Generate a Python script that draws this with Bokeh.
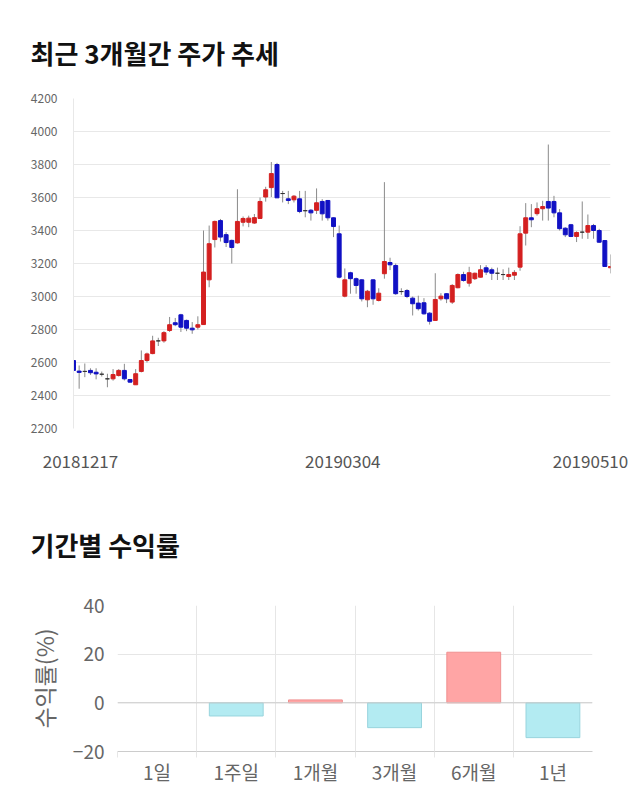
from bokeh.plotting import figure
from bokeh.models import ColumnDataSource, FixedTicker, Title, Span
from bokeh.embed import file_html
from bokeh.resources import INLINE

FONT = "Noto Sans CJK KR"

# ---- price data (96 trading days, 2018-12-17 .. 2019-05-10) ----
opens = [2612, 2548, 2546, 2552, 2541, 2529, 2501, 2501, 2521, 2552, 2497, 2465,
         2546, 2612, 2654, 2731, 2731, 2794, 2841, 2889, 2855, 2808, 2814,
         2830, 3101, 3345, 3460, 3375, 3340, 3325, 3450, 3450, 3445, 3473, 3603,
         3660, 3800, 3624, 3592, 3586, 3592, 3520, 3523, 3522, 3576, 3582, 3477,
         3380, 3002, 3144, 3108, 3101, 2980, 3101, 2976, 3138, 3206, 3188, 3030,
         3036, 2990, 2960, 2962, 2899, 2855, 2986, 3017, 2966, 3053, 3133, 3081,
         3108, 3117, 3174, 3162, 3141, 3133, 3121, 3129, 3178, 3384, 3477, 3502,
         3532, 3576, 3576, 3507, 3414, 3435, 3364, 3390, 3390, 3430, 3400, 3339,
         3174]
highs = [2620, 2582, 2594, 2565, 2565, 2545, 2532, 2560, 2560, 2592, 2500, 2560,
         2673, 2660, 2762, 2750, 2790, 2876, 2870, 2895, 2860, 2845, 2880,
         3400, 3430, 3460, 3470, 3390, 3345, 3650, 3485, 3490, 3500, 3600, 3665,
         3815, 3810, 3640, 3640, 3615, 3640, 3640, 3530, 3655, 3590, 3585, 3480,
         3430, 3170, 3150, 3115, 3105, 3040, 3105, 3050, 3693, 3235, 3200, 3050,
         3045, 3000, 3005, 2990, 2905, 3141, 3020, 3020, 3075, 3140, 3150, 3180,
         3145, 3190, 3190, 3175, 3175, 3165, 3175, 3160, 3426, 3566, 3560, 3570,
         3580, 3921, 3610, 3530, 3420, 3440, 3395, 3576, 3497, 3440, 3410, 3340,
         3255]
lows = [2552, 2441, 2511, 2525, 2498, 2515, 2450, 2490, 2515, 2491, 2478, 2465,
        2540, 2600, 2650, 2700, 2720, 2785, 2820, 2785, 2790, 2774, 2800,
        2828, 3056, 3297, 3333, 3300, 3200, 3320, 3425, 3420, 3440, 3470, 3575,
        3603, 3598, 3570, 3560, 3570, 3505, 3480, 3460, 3500, 3460, 3460, 3360,
        3110, 2995, 3017, 3017, 2970, 2935, 2950, 2970, 3108, 3160, 3010, 3010,
        2990, 2885, 2915, 2890, 2830, 2855, 2975, 2960, 2955, 3050, 3090, 3060,
        3100, 3115, 3130, 3100, 3100, 3100, 3100, 3100, 3156, 3309, 3420, 3490,
        3460, 3460, 3480, 3400, 3360, 3360, 3330, 3350, 3349, 3350, 3325, 3180,
        3140]
closes = [2552, 2540, 2546, 2538, 2531, 2529, 2501, 2527, 2552, 2501, 2481, 2532,
          2612, 2652, 2731, 2731, 2781, 2829, 2829, 2814, 2808, 2798, 2829,
          3148, 3320, 3455, 3360, 3327, 3297, 3455, 3473, 3475, 3478, 3576, 3647,
          3745, 3598, 3624, 3582, 3608, 3515, 3520, 3507, 3568, 3501, 3477, 3424,
          3117, 3101, 3108, 3067, 2986, 3032, 2986, 3020, 3212, 3192, 3017, 3030,
          3000, 2956, 2926, 2895, 2850, 2982, 3002, 2986, 3067, 3133, 3097, 3144,
          3141, 3162, 3148, 3141, 3141, 3133, 3133, 3146, 3380, 3477, 3465, 3532,
          3545, 3536, 3507, 3411, 3374, 3364, 3388, 3390, 3430, 3400, 3329, 3182,
          3182]

date_labels = ["20181217", "20190304", "20190510"]
date_label_idx = [0, 48, 95]
price_ticks = [2200, 2400, 2600, 2800, 3000, 3200, 3400, 3600, 3800, 4000, 4200]

# ---- return data ----
periods = ["1일", "1주일", "1개월", "3개월", "6개월", "1년"]
returns = [0.0, -5.4, 1.2, -10.2, 20.8, -14.3]
return_ticks = [-20, 0, 20, 40]

RED = "#d42020"
BLUE = "#1111c4"
DOJI = "#333333"

idx = list(range(len(opens)))
colors = [RED if c > o else (BLUE if c < o else DOJI) for o, c in zip(opens, closes)]
src = ColumnDataSource(dict(x=idx, o=opens, h=highs, l=lows, c=closes, color=colors))

W1, FL1, FR1 = 640, 73, 30
p1 = figure(width=W1, height=480, x_range=(0, 95), y_range=(2200, 4200),
            output_backend="svg", toolbar_location=None,
            min_border_left=FL1, min_border_right=FR1, min_border_top=98, min_border_bottom=52)
p1.outline_line_color = None
p1.add_layout(Title(text="최근 3개월간 주가 추세", align="left", offset=-43,
                    text_font=FONT, text_font_size="26px", text_font_style="bold",
                    text_color="#111111", standoff=56), "above")
p1.segment(x0="x", x1="x", y0="l", y1="h", source=src, line_color="#8a8a8a", line_width=1)
p1.vbar(x="x", width=0.7, top="o", bottom="c", source=src,
        fill_color="color", line_color="color", line_width=1)

# date labels: edge labels are nudged inward so they stay inside the canvas
px_per_idx = (W1 - FL1 - FR1) / 95.0
label_nudge_px = [7, -2, -20]
tick_pos = [i + n / px_per_idx for i, n in zip(date_label_idx, label_nudge_px)]
p1.xaxis.ticker = FixedTicker(ticks=tick_pos)
p1.xaxis.major_label_overrides = {t: lab for t, lab in zip(tick_pos, date_labels)}
p1.xaxis.axis_line_color = None
p1.xaxis.major_tick_line_color = None
p1.xaxis.minor_tick_line_color = None
p1.xaxis.major_label_text_font = FONT
p1.xaxis.major_label_text_font_size = "17px"
p1.xaxis.major_label_text_color = "#555555"
p1.xaxis.major_label_standoff = 20
p1.xgrid.grid_line_color = None
p1.ygrid.grid_line_color = "#e8e8e8"
p1.ygrid.ticker = FixedTicker(ticks=price_ticks)
p1.yaxis.ticker = FixedTicker(ticks=price_ticks)
p1.yaxis.axis_line_color = "#e8e8e8"
p1.yaxis.major_tick_line_color = None
p1.yaxis.minor_tick_line_color = None
p1.yaxis.major_label_text_font = FONT
p1.yaxis.major_label_text_font_size = "12px"
p1.yaxis.major_label_text_color = "#666666"
p1.yaxis.major_label_standoff = 10

# ---- returns bar chart ----
pos = [i + 0.5 for i in range(len(periods))]
bar_fill = ["#ffa5a5" if v > 0 else ("#b3ebf2" if v < 0 else None) for v in returns]
bar_line = ["#f09090" if v > 0 else ("#98d4dd" if v < 0 else None) for v in returns]
bsrc = ColumnDataSource(dict(x=pos, top=returns, fill=bar_fill, line=bar_line))

p2 = figure(width=640, height=330, x_range=(0, 6), y_range=(-20, 40),
            output_backend="svg", toolbar_location=None,
            min_border_left=117, min_border_right=48, min_border_top=125, min_border_bottom=59)
p2.outline_line_color = None
p2.add_layout(Title(text="기간별 수익률", align="left", offset=-87,
                    text_font=FONT, text_font_size="26px", text_font_style="bold",
                    text_color="#111111", standoff=86), "above")
p2.xgrid.ticker = FixedTicker(ticks=list(range(len(periods))))
p2.xgrid.grid_line_color = "#e6e6e6"
p2.ygrid.ticker = FixedTicker(ticks=return_ticks)
p2.ygrid.grid_line_color = "#e6e6e6"
p2.add_layout(Span(location=0, dimension="width", line_color="#cccccc", line_width=1))
p2.vbar(x="x", top="top", bottom=0, width=0.68, source=bsrc,
        fill_color="fill", line_color="line", line_width=1)

p2.xaxis.ticker = FixedTicker(ticks=pos, minor_ticks=list(range(len(periods))))
p2.xaxis.major_label_overrides = {p: lab for p, lab in zip(pos, periods)}
p2.xaxis.major_tick_line_color = None
p2.xaxis.minor_tick_line_color = "#e6e6e6"
p2.xaxis.minor_tick_in = 0
p2.xaxis.minor_tick_out = 6
p2.xaxis.axis_line_color = "#cccccc"
p2.xaxis.major_label_text_font = FONT
p2.xaxis.major_label_text_font_size = "19px"
p2.xaxis.major_label_text_color = "#666666"
p2.xaxis.major_label_standoff = 0

p2.yaxis.ticker = FixedTicker(ticks=return_ticks)
p2.yaxis.axis_line_color = None
p2.yaxis.major_tick_line_color = None
p2.yaxis.minor_tick_line_color = None
p2.yaxis.major_label_text_font = FONT
p2.yaxis.major_label_text_font_size = "19px"
p2.yaxis.major_label_text_color = "#666666"
p2.yaxis.major_label_standoff = 7
p2.yaxis.axis_label = "수익률(%)"
p2.yaxis.axis_label_text_font = FONT
p2.yaxis.axis_label_text_font_size = "23px"
p2.yaxis.axis_label_text_font_style = "normal"
p2.yaxis.axis_label_text_color = "#666666"
p2.yaxis.axis_label_standoff = 9

open("out.html", "w").write(file_html([p1, p2], INLINE))
